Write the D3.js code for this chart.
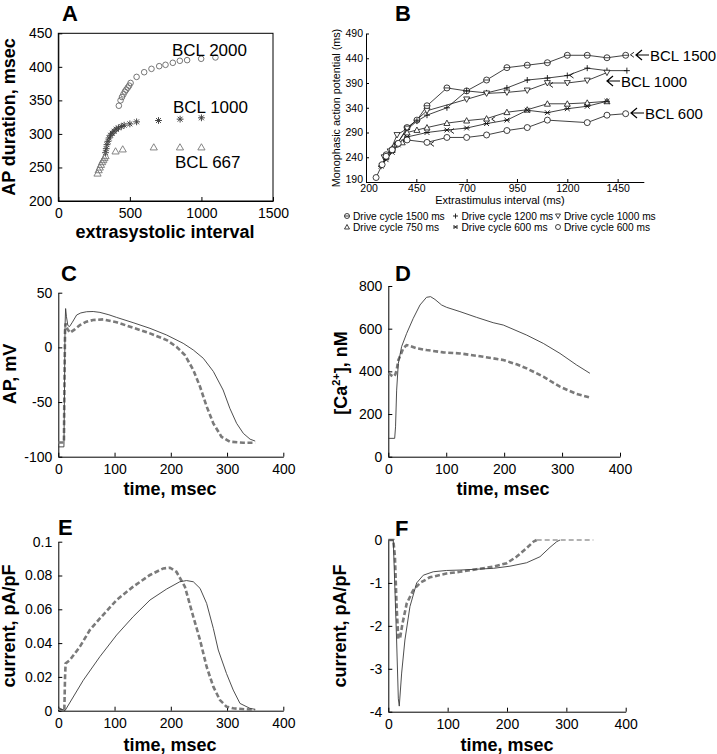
<!DOCTYPE html>
<html><head><meta charset="utf-8">
<script src="https://cdn.jsdelivr.net/npm/d3@7"></script>
<style>body{margin:0;background:#fff}svg{display:block;font-family:"Liberation Sans",Arial,sans-serif}</style>
</head><body>
<script>
// ---------- Panel A data ----------
const aXTicks = [0, 500, 1000, 1500];
const aYTicks = [200, 250, 300, 350, 400, 450];
const aBcl2000 = [[423,342],[435,350],[445,355],[455,359],[465,363],[475,366],[485,369],[495,372],[505,376],[547,385],[600,392],[651,397],[705,401],[749,403],[800,406],[849,409],[900,410],[998,412],[1098,414]];
const aBcl1000 = [[330,272],[335,278],[340,284],[347,289],[355,294],[365,298],[377,301],[390,304],[405,307],[420,309],[440,311],[460,313],[500,315],[547,318],[700,320],[851,322],[1000,324]];
const aBcl667 = [[274,241],[282,246],[290,250],[298,254],[306,258],[314,261],[322,264],[330,267],[400,274],[450,277],[667,280],[850,280],[1000,280]];
const aLabels = ["BCL 2000", "BCL 1000", "BCL 667"];

// ---------- Panel B data ----------
const bXTicks = [200, 450, 700, 950, 1200, 1450];
const bYTicks = [190, 240, 290, 340, 390, 440, 490];
const bNames = ["Drive cycle 1500 ms","Drive cycle 1200 ms","Drive cycle 1000 ms","Drive cycle 750 ms","Drive cycle 600 ms","Drive cycle 600 ms"];
const bS1500 = [[300,245],[330,255],[354,266],[404,300],[453,315],[503,344],[602,380],[700,374],[799,396],[900,421],[1001,426],[1101,431],[1200,446],[1299,446],[1397,441],[1490,446]];
const bS1200 = [[275,222],[300,240],[330,258],[354,268],[404,296],[453,313],[503,325],[602,340],[700,374],[799,370],[900,380],[1001,396],[1101,400],[1200,405],[1299,420],[1397,415],[1496,415]];
const bS1000 = [[290,240],[320,252],[354,285],[404,298],[503,334],[700,357],[799,369],[900,371],[1001,375],[1101,390],[1200,390],[1299,395],[1397,411]];
const bS750 = [[300,242],[330,255],[380,270],[404,290],[453,295],[503,300],[602,309],[700,314],[799,318],[900,331],[1001,336],[1101,348],[1200,348],[1299,350],[1397,353]];
const bS600x = [[275,222],[300,235],[330,250],[360,265],[404,281],[503,290],[602,295],[700,299],[799,308],[900,315],[1001,335],[1101,330],[1200,338],[1299,343],[1397,353]];
const bS600o = [[250,199],[280,225],[300,242],[330,255],[360,268],[404,275],[503,270],[602,280],[700,280],[799,285],[900,294],[1001,300],[1101,315],[1299,310],[1397,325],[1490,328]];
const bChevrons = [[528,267],[627,293],[832,317],[1119,386],[1221,405],[1521,447]];
const bArrowLabels = ["BCL 1500", "BCL 1000", "BCL 600"];

// ---------- Panels C-F data (time ms, value) ----------
const tTicks = [0, 100, 200, 300, 400];
const cYTicks = [-100, -50, 0, 50];
const cSolid = [[0,-91],[10,-91],[11,-40],[12,20],[13,35.5],[14.5,28],[17,20],[20,19],[25,23],[32.6,29.6],[40,31.5],[50.4,32.6],[62,32.8],[74,32],[90,29.8],[103.7,27.4],[133,22.6],[163,17.4],[192.6,11.3],[222,3.7],[240,-2.4],[257.8,-10],[275.6,-22],[293,-39],[305,-55.8],[317,-69.5],[329,-78.7],[341,-84],[350,-85.7]];
const cDashed = [[0,-87],[10,-87],[11,-30],[12,15],[13,22],[16,17],[20.7,13.4],[28,16],[38.5,20.4],[50,23.5],[62,25],[80,25.6],[103.7,22.9],[133,18],[163,12.8],[192.6,6.7],[210,0.6],[225,-7],[240,-20.7],[252,-36],[263.7,-54],[275.6,-69.5],[290,-81.7],[305,-86.3],[329,-87.2],[350,-87.2]];
const dYTicks = [0, 200, 400, 600, 800];
const dSolid = [[0,86],[11,86],[12.5,140],[14.4,312],[17.3,437],[23,516],[31.7,578],[43,648],[54.7,711],[66,747],[73,750],[80.6,737],[92,711],[100.7,700],[123.7,680],[152.5,653],[181,628],[198.6,617],[238.8,570],[267.6,531],[296.4,484],[325,430],[348,391]];
const dDashed = [[0,391],[8.6,375],[12,385],[14.4,406],[17.3,453],[21.3,477],[25.9,508],[31.7,523],[37.4,519],[49,508],[66,500],[95,489],[123.7,484],[152.5,473],[181,461],[198.6,453],[221.6,433],[238.8,414],[267.6,375],[296.4,328],[325,294],[348,278]];
const eYTicks = [0, 0.02, 0.04, 0.06, 0.08, 0.1];
const eSolid = [[0,0.0014],[8.9,0.0004],[11.9,0],[44.4,0.018],[74,0.032],[103.7,0.0448],[133,0.0556],[163,0.0655],[192.6,0.072],[216,0.0763],[228,0.077],[240,0.0763],[252,0.0724],[263.7,0.0635],[275.6,0.0487],[284.4,0.0359],[299,0.022],[311,0.0122],[323,0.0043],[340.7,0.0014],[350,0.0008]];
const eDashed = [[0,0.0014],[5.9,0.0004],[10.7,0],[12,0.02],[13,0.028],[20.7,0.030],[38.5,0.0379],[56,0.0477],[74,0.0546],[103.7,0.0655],[133,0.0734],[163,0.0803],[186.7,0.0842],[198.5,0.0846],[210,0.0822],[225,0.0734],[240,0.0556],[252,0.0418],[263.7,0.026],[275.6,0.0142],[287.4,0.0063],[299,0.0024],[311,0.0014],[350,0.0004]];
const fYTicks = [-4, -3, -2, -1, 0];
const fSolid = [[0,0],[8.4,0],[11.2,-1.17],[14,-2.33],[16.9,-3.7],[18.5,-3.87],[22.5,-3.1],[28,-2.33],[36.5,-1.55],[47.8,-1.0],[59,-0.82],[75.8,-0.74],[98,-0.71],[120.8,-0.70],[149,-0.68],[177,-0.66],[205,-0.61],[233,-0.53],[255.6,-0.39],[272.5,-0.17],[283.7,-0.04],[289.3,0]];
const fDashed = [[0,0],[8.4,0],[11.2,-0.39],[14,-1.55],[16.9,-2.3],[19.7,-2.29],[24,-1.94],[31,-1.48],[42,-1.17],[53.4,-1.0],[70,-0.87],[98,-0.78],[120.8,-0.74],[149,-0.68],[177,-0.62],[199.4,-0.54],[216,-0.39],[233,-0.19],[244.4,-0.04],[250,0]];
const fDashedTail = [[250,0],[345.5,0]];

// ---------- drawing ----------
const svg = d3.select("body").append("svg").attr("width", 717).attr("height", 754);
svg.append("rect").attr("width", 717).attr("height", 754).attr("fill", "#fff");

const FONT = '"Liberation Sans", Arial, sans-serif';

function axes(x, y, xTicks, yTicks, opt = {}) {
  const g = svg.append("g");
  const ts = opt.tickSize ?? 4, fs = opt.fontSize ?? 14;
  const xa = d3.axisBottom(x).tickValues(xTicks).tickSizeInner(-ts).tickSizeOuter(0).tickPadding(opt.xPad ?? 7).tickFormat(d => String(d));
  const ya = d3.axisLeft(y).tickValues(yTicks).tickSizeInner(-ts).tickSizeOuter(0).tickPadding(opt.yPad ?? 6).tickFormat(d => String(d));
  const gx = g.append("g").attr("transform", `translate(0,${y.range()[0]})`).call(xa);
  const gy = g.append("g").attr("transform", `translate(${x.range()[0]},0)`).call(ya);
  [gx, gy].forEach(a => {
    a.selectAll("text").attr("font-size", fs).attr("font-family", FONT).attr("fill", "#000");
    a.select(".domain").attr("stroke", "#000").attr("stroke-width", 1);
    a.selectAll(".tick line").attr("stroke", "#000");
  });
  gx.selectAll("text").attr("dy", "0.71em");
  return { gx, gy };
}
function panelLetter(t, x, y) {
  svg.append("text").attr("x", x).attr("y", y).attr("font-size", 22).attr("font-weight", "bold").attr("font-family", FONT).text(t);
}
function xTitle(t, cx, y, fs = 18, bold = true) {
  svg.append("text").attr("x", cx).attr("y", y).attr("text-anchor", "middle").attr("font-size", fs).attr("font-weight", bold ? "bold" : "normal").attr("font-family", FONT).text(t);
}
function yTitle(t, x, cy, fs = 18, bold = true) {
  return svg.append("text").attr("transform", `translate(${x},${cy}) rotate(-90)`).attr("text-anchor", "middle").attr("font-size", fs).attr("font-weight", bold ? "bold" : "normal").attr("font-family", FONT).text(t);
}

// ===== Panel A =====
{
  const x = d3.scaleLinear().domain([0, 1500]).range([58.3, 273]);
  const y = d3.scaleLinear().domain([200, 450]).range([201, 33.3]);
  axes(x, y, aXTicks, aYTicks, { fontSize: 14 });
  svg.append("rect").attr("x", 58.3).attr("y", 33.3).attr("width", 273 - 58.3).attr("height", 201 - 33.3).attr("fill", "none").attr("stroke", "#000");
  svg.append("g").selectAll("circle").data(aBcl2000).join("circle")
    .attr("cx", d => x(d[0])).attr("cy", d => y(d[1])).attr("r", 2.8).attr("fill", "none").attr("stroke", "#666").attr("stroke-width", 0.9);
  svg.append("g").selectAll("path").data(aBcl1000).join("path")
    .attr("d", d => { const cx = x(d[0]), cy = y(d[1]), s = 3.4, k = s * 0.72;
      return `M${cx - s},${cy}H${cx + s}M${cx},${cy - s}V${cy + s}M${cx - k},${cy - k}L${cx + k},${cy + k}M${cx - k},${cy + k}L${cx + k},${cy - k}`; })
    .attr("stroke", "#444").attr("stroke-width", 1).attr("fill", "none");
  svg.append("g").selectAll("path").data(aBcl667).join("path")
    .attr("d", d => { const cx = x(d[0]), cy = y(d[1]); return `M${cx - 3.6},${cy + 2.6}L${cx},${cy - 3.6}L${cx + 3.6},${cy + 2.6}Z`; })
    .attr("stroke", "#777").attr("stroke-width", 0.9).attr("fill", "none");
  const lab = [[172, 56], [173, 113], [175, 168]];
  aLabels.forEach((t, i) => svg.append("text").attr("x", lab[i][0]).attr("y", lab[i][1]).attr("font-size", 17).attr("font-family", FONT).text(t));
  panelLetter("A", 62, 21);
  xTitle("extrasystolic interval", 165, 238);
  yTitle("AP duration, msec", 15, 117);
}

// ===== Panel B =====
{
  const x = d3.scaleLinear().domain([200, 1580]).range([366, 643.8]);
  const y = d3.scaleLinear().domain([190, 490]).range([182, 33.5]);
  const ax = axes(x, y, bXTicks, bYTicks, { fontSize: 10.5, tickSize: 3, xPad: 3, yPad: 3 });
  ax.gy.selectAll(".tick text").filter(d => d === 190).attr("dy", "0.05em");
  ax.gx.selectAll(".tick text").filter(d => d === 200).attr("dx", "0.25em");
  const series = [bS1500, bS1200, bS1000, bS750, bS600x, bS600o];
  const kinds = ["circLine", "plus", "triDown", "triUp", "star", "circ"];
  const line = d3.line().x(d => x(d[0])).y(d => y(d[1]));
  series.forEach(s => svg.append("path").attr("d", line(s)).attr("fill", "none").attr("stroke", "#111").attr("stroke-width", 0.8));
  function marker(kind, cx, cy, s = 3) {
    const g = svg.append("g");
    if (kind === "circ" || kind === "circLine") {
      g.append("circle").attr("cx", cx).attr("cy", cy).attr("r", s).attr("fill", "#fff").attr("stroke", "#111").attr("stroke-width", 0.8);
      if (kind === "circLine") g.append("path").attr("d", `M${cx - s},${cy}H${cx + s}`).attr("stroke", "#111").attr("stroke-width", 0.8);
    } else if (kind === "plus") {
      g.append("path").attr("d", `M${cx - s},${cy}H${cx + s}M${cx},${cy - s}V${cy + s}`).attr("stroke", "#111").attr("stroke-width", 0.9);
    } else if (kind === "triDown") {
      g.append("path").attr("d", `M${cx - s},${cy - s * 0.8}H${cx + s}L${cx},${cy + s}Z`).attr("fill", "#fff").attr("stroke", "#111").attr("stroke-width", 0.8);
    } else if (kind === "triUp") {
      g.append("path").attr("d", `M${cx - s},${cy + s * 0.8}H${cx + s}L${cx},${cy - s}Z`).attr("fill", "#fff").attr("stroke", "#111").attr("stroke-width", 0.8);
    } else if (kind === "star") {
      const k = s * 0.8;
      g.append("path").attr("d", `M${cx - k},${cy - k}L${cx + k},${cy + k}M${cx - k},${cy + k}L${cx + k},${cy - k}M${cx - s},${cy}H${cx + s}`).attr("stroke", "#111").attr("stroke-width", 0.9);
    }
  }
  series.forEach((s, i) => s.forEach(d => marker(kinds[i], x(d[0]), y(d[1]))));
  svg.append("g").selectAll("path").data(bChevrons).join("path")
    .attr("d", d => { const cx = x(d[0]), cy = y(d[1]); return `M${cx + 2},${cy - 2.5}L${cx - 1.5},${cy}L${cx + 2},${cy + 2.5}`; })
    .attr("fill", "none").attr("stroke", "#111").attr("stroke-width", 0.9);
  // arrow labels
  const arr = [[636, 55], [607, 81], [631, 113]];
  bArrowLabels.forEach((t, i) => {
    const [axp, ayp] = arr[i];
    svg.append("path").attr("d", `M${axp + 6},${ayp - 5}L${axp},${ayp}L${axp + 6},${ayp + 5}M${axp},${ayp}H${axp + 13}`).attr("fill", "none").attr("stroke", "#000").attr("stroke-width", 1.2);
    svg.append("text").attr("x", axp + 14).attr("y", ayp + 5.5).attr("font-size", 15).attr("font-family", FONT).text(t);
  });
  // legend
  const lx = [347, 455.5, 558], ly = [216, 227];
  bNames.forEach((t, i) => {
    const cx = lx[i % 3], cy = ly[Math.floor(i / 3)];
    marker(kinds[i], cx, cy, 2.5);
    svg.append("text").attr("x", cx + 6).attr("y", cy + 3.8).attr("font-size", 10.2).attr("font-family", FONT).text(t);
  });
  panelLetter("B", 395, 21);
  xTitle("Extrastimulus interval (ms)", 500, 204, 11, false);
  yTitle("Monophasic action potential (ms)", 340, 108, 10.8, false);
}

// ===== Panels C-F =====
function tracePanel(xr, yr, ydom, yTicks, solid, dashed, extra) {
  const x = d3.scaleLinear().domain([0, 400]).range(xr);
  const y = d3.scaleLinear().domain(ydom).range(yr);
  axes(x, y, tTicks, yTicks, { fontSize: 14 });
  const line = d3.line().x(d => x(d[0])).y(d => y(d[1]));
  svg.append("path").attr("d", line(dashed)).attr("fill", "none").attr("stroke", "#7a7a7a").attr("stroke-width", 2.6).attr("stroke-dasharray", "5,2.6");
  if (extra) svg.append("path").attr("d", line(extra)).attr("fill", "none").attr("stroke", "#999").attr("stroke-width", 1.6).attr("stroke-dasharray", "5,3");
  svg.append("path").attr("d", line(solid)).attr("fill", "none").attr("stroke", "#3a3a3a").attr("stroke-width", 0.9);
}
tracePanel([58.3, 283.3], [456.7, 292.7], [-100, 50], cYTicks, cSolid, cDashed);
panelLetter("C", 61, 281);
xTitle("time, msec", 170, 495);
yTitle("AP, mV", 15.5, 374);

tracePanel([388.3, 620], [456.7, 286], [0, 800], dYTicks, dSolid, dDashed);
panelLetter("D", 395, 281);
xTitle("time, msec", 503, 495);
{
  const t = svg.append("text").attr("transform", `translate(347,373) rotate(-90)`).attr("text-anchor", "middle").attr("font-size", 18).attr("font-weight", "bold").attr("font-family", FONT);
  t.append("tspan").text("[Ca");
  t.append("tspan").attr("dy", -7).attr("font-size", 11).text("2+");
  t.append("tspan").attr("dy", 7).text("], nM");
}

tracePanel([58.3, 283.3], [710.7, 541.7], [0, 0.1], eYTicks, eSolid, eDashed);
panelLetter("E", 58, 535);
xTitle("time, msec", 170, 751);
yTitle("current, pA/pF", 15, 626);

tracePanel([388.3, 625.7], [711.7, 540], [-4, 0], fYTicks, fSolid, fDashed, fDashedTail);
panelLetter("F", 395, 536);
xTitle("time, msec", 507, 751);
yTitle("current, pA/pF", 346, 626);
</script>
</body></html>
